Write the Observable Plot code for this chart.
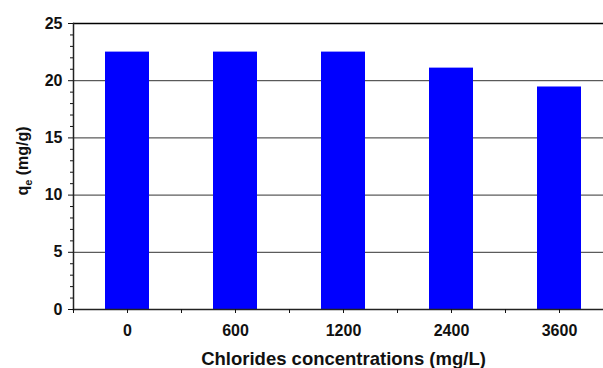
<!DOCTYPE html>
<html><head><meta charset="utf-8">
<script src="https://cdn.jsdelivr.net/npm/d3@7"></script>
<script src="https://cdn.jsdelivr.net/npm/@observablehq/plot@0.6"></script>
<style>
html,body{margin:0;padding:0;background:#fff;overflow:hidden}
#chart svg{overflow:hidden;display:block}
</style></head><body><div id="chart"></div>
<script>
// ---- data ----
const categories = ["0", "600", "1200", "2400", "3600"];
const values = [22.5, 22.5, 22.5, 21.1, 19.45];
const yMajorTicks = [0, 5, 10, 15, 20, 25];
const yMinorTicks = [1,2,3,4,6,7,8,9,11,12,13,14,16,17,18,19,21,22,23,24];
const gridValues = [5, 10, 15, 20];
const topValue = [25];
const xLabel = "Chlorides concentrations (mg/L)";
const yLabelMain = "q", yLabelSub = "e", yLabelRest = " (mg/g)";

const data = categories.map((c, i) => ({cat: c, value: values[i]}));

const W = 603, H = 368, ML = 73, MR = -10;
const halfStep = (W - ML - MR) / categories.length / 2;
const font = "'Liberation Sans', Arial, sans-serif";

const svg = Plot.plot({
  width: W, height: H,
  marginLeft: ML, marginRight: MR, marginTop: 23, marginBottom: 59,
  style: {fontFamily: font, fontWeight: "bold", background: "#fff", color: "#111", overflow: "hidden"},
  x: {domain: categories, paddingInner: 0.593, paddingOuter: 0.2965, axis: null},
  y: {domain: [0, 25], axis: null},
  marks: [
    Plot.ruleY(gridValues, {stroke: "#333", strokeWidth: 1}),
    Plot.ruleY(topValue, {stroke: "#000", strokeWidth: 1.6}),
    Plot.barY(data, {x: "cat", y: "value", fill: "#0000ff"}),
    Plot.frame({anchor: "left", stroke: "#222", strokeWidth: 1.5}),
    Plot.frame({anchor: "bottom", stroke: "#222", strokeWidth: 1.5}),
    Plot.axisY(yMinorTicks, {tickSize: 3, tickFormat: () => "", label: null}),
    Plot.axisY(yMajorTicks, {tickSize: 5, tickPadding: 6, fontSize: 16, fontWeight: "bold", label: null}),
    Plot.axisX(categories, {tickSize: 4, tickPadding: 11, fontSize: 16, fontWeight: "bold", label: null}),
    Plot.axisX(categories, {tickSize: 4, tickFormat: () => "", dx: -halfStep, label: null}),
    Plot.text([xLabel], {text: d => d, frameAnchor: "bottom", lineAnchor: "bottom", dy: 55.5,
      fontSize: 18.5, fontWeight: "bold", fill: "#111"})
  ]
});

// y-axis title with subscript
const t = d3.select(svg).append("text")
  .attr("transform", "translate(28,161) rotate(-90)")
  .attr("text-anchor", "middle")
  .attr("fill", "#111")
  .style("font-family", font)
  .style("font-weight", "bold")
  .style("font-size", "16px");
t.append("tspan").text(yLabelMain);
t.append("tspan").attr("dy", 4).style("font-size", "11px").text(yLabelSub);
t.append("tspan").attr("dy", -4).text(yLabelRest);

document.getElementById("chart").appendChild(svg);
</script></body></html>
